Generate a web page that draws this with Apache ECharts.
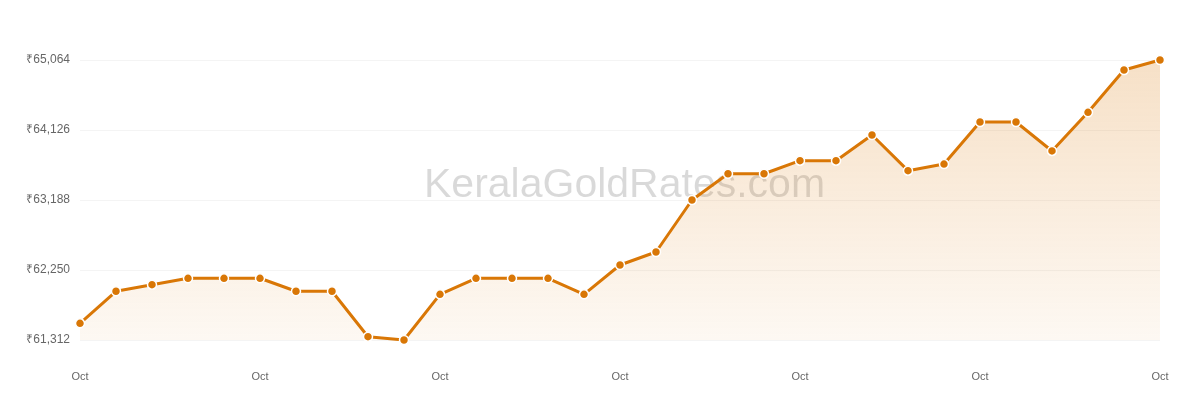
<!DOCTYPE html>
<html>
<head>
<meta charset="utf-8">
<script src="https://cdn.jsdelivr.net/npm/echarts@6/dist/echarts.min.js"></script>
<style>
html,body{margin:0;padding:0;background:#fff;}
#chart{width:1200px;height:400px;}
</style>
</head>
<body>
<div id="chart"></div>
<script>
var categories = ['Oct 1','Oct 2','Oct 3','Oct 4','Oct 5','Oct 6','Oct 7','Oct 8','Oct 9','Oct 10',
  'Oct 11','Oct 12','Oct 13','Oct 14','Oct 15','Oct 16','Oct 17','Oct 18','Oct 19','Oct 20',
  'Oct 21','Oct 22','Oct 23','Oct 24','Oct 25','Oct 26','Oct 27','Oct 28','Oct 29','Oct 30','Oct 31'];
var prices = [61536, 61965, 62053, 62139, 62139, 62139, 61965, 61965, 61356, 61312,
  61924, 62139, 62139, 62139, 61924, 62317, 62491, 63188, 63540, 63540,
  63715, 63715, 64059, 63581, 63670, 64233, 64233, 63845, 64363, 64930, 65064];
var yMin = 61312, yMax = 65064, yStep = 938;
var watermark = 'KeralaGoldRates.com';

var chart = echarts.init(document.getElementById('chart'), null, {renderer: 'canvas'});
chart.setOption({
  animation: false,
  grid: {left: 80, right: 40, top: 60, bottom: 60},
  graphic: [{
    type: 'text', left: 424, top: 165, z: 1,
    style: {text: watermark, fontSize: 41, fontFamily: 'Liberation Sans, Arial, sans-serif',
      fill: 'rgba(0,0,0,0.15)'}
  }],
  xAxis: {
    type: 'category', data: categories, boundaryGap: false,
    axisLine: {show: false}, axisTick: {show: false},
    axisLabel: {interval: 4, color: '#666', fontSize: 11, margin: 31,
      fontFamily: 'Liberation Sans, Arial, sans-serif',
      formatter: function (v) { return v.split(' ')[0]; }},
    splitLine: {show: false}
  },
  yAxis: {
    type: 'value', min: yMin, max: yMax, interval: yStep,
    axisLine: {show: false}, axisTick: {show: false},
    axisLabel: {color: '#666', fontSize: 12, margin: 10,
      fontFamily: 'Liberation Sans, Arial, sans-serif',
      formatter: function (v) { return '₹' + Math.round(v).toLocaleString('en-US'); }},
    splitLine: {lineStyle: {color: '#f4f4f4', width: 1}}
  },
  series: [{
    type: 'line', data: prices,
    symbol: 'circle', symbolSize: 9,
    itemStyle: {color: '#d97706', borderColor: '#fff', borderWidth: 1.5},
    lineStyle: {color: '#d97706', width: 3},
    areaStyle: {
      color: new echarts.graphic.LinearGradient(0, 0, 0, 1, [
        {offset: 0, color: 'rgba(217,119,6,0.32)'},
        {offset: 1, color: 'rgba(217,119,6,0.07)'}
      ])
    },
    z: 2
  }]
});
</script>
</body>
</html>
